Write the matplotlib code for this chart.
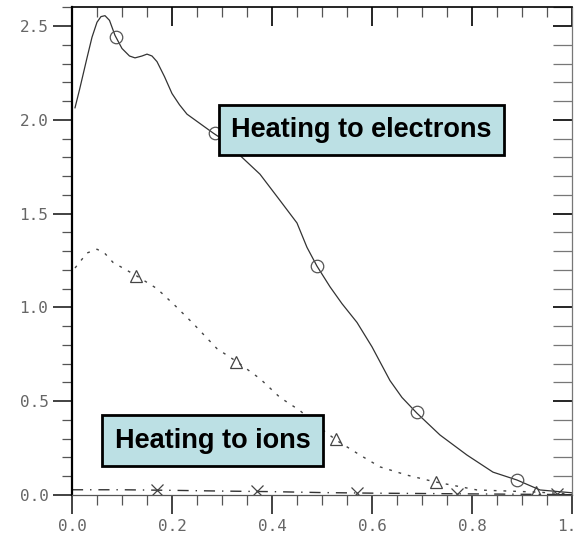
from matplotlib import pyplot as plt
from matplotlib.ticker import MultipleLocator, FormatStrFormatter

# heating to electrons (solid line, open circles)
x_e = [0.006, 0.015, 0.03, 0.04, 0.05, 0.058, 0.066, 0.075, 0.086, 0.10, 0.115, 0.126,
       0.14, 0.15, 0.16, 0.17, 0.185, 0.20, 0.215, 0.23, 0.256,
       0.282, 0.31, 0.336, 0.376, 0.416, 0.45, 0.47, 0.49, 0.516, 0.54, 0.57, 0.60,
       0.636, 0.66, 0.69, 0.736, 0.79, 0.842, 0.89, 0.936, 0.982, 1.0]
y_e = [2.064, 2.16, 2.33, 2.44, 2.52, 2.55, 2.555, 2.53, 2.45, 2.38, 2.34, 2.33,
       2.34, 2.35, 2.34, 2.31, 2.23, 2.14, 2.08, 2.03, 1.98,
       1.93, 1.88, 1.81, 1.71, 1.57, 1.45, 1.32, 1.22, 1.11, 1.02, 0.92, 0.79,
       0.61, 0.52, 0.436, 0.32, 0.213, 0.122, 0.08, 0.027, 0.016, 0.012]
xm_e = [0.088, 0.286, 0.49, 0.69, 0.89]
ym_e = [2.44, 1.93, 1.22, 0.44, 0.078]

# heating to ions (dotted line, triangles)
x_i = [0.006, 0.03, 0.05, 0.065, 0.082, 0.128, 0.17, 0.206, 0.242, 0.29, 0.33, 0.376,
       0.416, 0.456, 0.49, 0.53, 0.576, 0.616, 0.67, 0.726, 0.81, 0.926, 1.0]
y_i = [1.21, 1.29, 1.31, 1.29, 1.24, 1.17, 1.10, 1.01, 0.915, 0.78, 0.71, 0.62,
       0.52, 0.45, 0.37, 0.29, 0.213, 0.15, 0.106, 0.07, 0.027, 0.016, 0.005]
xm_i = [0.128, 0.328, 0.528, 0.728, 0.928]
ym_i = [1.17, 0.71, 0.30, 0.07, 0.016]

# third component (dash-dot line, crosses)
x_x = [0.0, 0.1, 0.2, 0.3, 0.4, 0.5, 0.6, 0.7, 0.8, 0.9, 1.0]
y_x = [0.028, 0.028, 0.025, 0.021, 0.018, 0.013, 0.010, 0.008, 0.006, 0.004, 0.002]
xm_x = [0.17, 0.37, 0.57, 0.77, 0.97]
ym_x = [0.026, 0.019, 0.010, 0.006, 0.003]

fig = plt.figure(figsize=(5.76, 5.39), dpi=100)
ax = fig.add_axes([0.125, 0.0816, 0.868, 0.905])
lc = '#333333'
ax.plot(x_e, y_e, color=lc, lw=0.9)
ax.plot(xm_e, ym_e, 'o', mfc='none', mec='#555555', ms=9, mew=0.9)
ax.plot(x_i, y_i, color='#444444', lw=1.0, linestyle=(0, (2, 5)))
ax.plot(xm_i, ym_i, '^', mfc='none', mec='#444444', ms=8, mew=0.9)
ax.plot(x_x, y_x, color='#333333', lw=1.0, linestyle=(0, (8, 5, 1, 5)))
ax.plot(xm_x, ym_x, 'x', color='#444444', ms=9, mew=0.9)

ax.set_xlim(0, 1.0)
ax.set_ylim(0, 2.6)
ax.xaxis.set_major_locator(MultipleLocator(0.2))
ax.xaxis.set_minor_locator(MultipleLocator(0.05))
ax.yaxis.set_major_locator(MultipleLocator(0.5))
ax.yaxis.set_minor_locator(MultipleLocator(0.1))
ax.xaxis.set_major_formatter(FormatStrFormatter('%.1f'))
ax.yaxis.set_major_formatter(FormatStrFormatter('%.1f'))
ax.tick_params(which='major', direction='out', length=14, width=1.2, colors='#222222',
               labelcolor='#666666', labelsize=11.5, pad=3)
ax.tick_params(which='minor', direction='out', length=7, width=0.9, colors='#555555')
ax.tick_params(axis='x', which='major', pad=3)
for lab in ax.get_xticklabels() + ax.get_yticklabels():
    lab.set_family('DejaVu Sans Mono')
ax.spines['left'].set_linewidth(1.6)
ax.spines['bottom'].set_linewidth(0.9)
ax.spines['bottom'].set_color('#555555')
ax.spines['top'].set_linewidth(1.2)
ax.spines['right'].set_linewidth(0.9)
ax.spines['right'].set_color('#777777')

# inward ticks on top and right
top = ax.secondary_xaxis('top')
top.xaxis.set_major_locator(MultipleLocator(0.2))
top.xaxis.set_minor_locator(MultipleLocator(0.05))
top.tick_params(which='major', direction='in', length=14, width=1.2, labeltop=False)
top.tick_params(which='minor', direction='in', length=7, width=0.9, colors='#555555')
top.spines['top'].set_visible(False)
right = ax.secondary_yaxis('right')
right.yaxis.set_major_locator(MultipleLocator(0.5))
right.yaxis.set_minor_locator(MultipleLocator(0.1))
right.tick_params(which='major', direction='in', length=14, width=1.2, labelright=False)
right.tick_params(which='minor', direction='in', length=14, width=0.9, colors='#777777')
right.spines['right'].set_visible(False)

box = dict(boxstyle='square,pad=0.45', facecolor='#BCE0E4', edgecolor='black', linewidth=2)
ax.text(0.579, 1.947, 'Heating to electrons', ha='center', va='center', fontsize=19.5,
        fontweight='bold', family='Liberation Sans', bbox=box)
ax.text(0.281, 0.29, 'Heating to ions', ha='center', va='center', fontsize=19.5,
        fontweight='bold', family='Liberation Sans', bbox=box)

fig.savefig('out.png', dpi=100)
